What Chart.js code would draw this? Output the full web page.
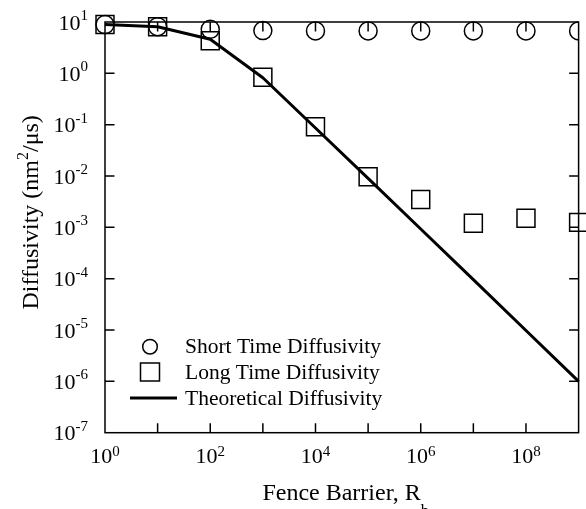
<!DOCTYPE html>
<html><head><meta charset="utf-8">
<script src="https://cdn.jsdelivr.net/npm/chart.js@4.4.1/dist/chart.umd.min.js"></script>
<style>html,body{margin:0;padding:0;background:#fff;}canvas{display:block;}</style>
</head><body>
<div style="width:586px;height:509px;"><canvas id="c" width="586" height="509"></canvas></div>
<script>
// ---- data ----
const barrier      = [1, 10, 100, 1e3, 1e4, 1e5, 1e6, 1e7, 1e8, 1e9];
const shortTime    = [8.9, 8.1, 7.2, 6.8, 6.7, 6.7, 6.7, 6.7, 6.7, 6.7];
const longTime     = [8.9, 8.1, 4.3, 0.84, 0.091, 0.0097, 0.0035, 0.0012, 0.0015, 0.00125];
const theoretical  = [8.9, 8.1, 4.6, 0.82, 0.086, 0.009, 9.3e-4, 9.6e-5, 9.8e-6, 1.0e-6];
const seriesLabels = ['Short Time Diffusivity', 'Long Time Diffusivity', 'Theoretical Diffusivity'];
const xLabelExps   = [0, 2, 4, 6, 8];
const yLabelExps   = [1, 0, -1, -2, -3, -4, -5, -6, -7];
const xTitleText   = 'Fence Barrier, R';
const xTitleSub    = 'b';
const yTitleParts  = ['Diffusivity (nm', '2', '/\u03bcs)'];

const FONT = "'Liberation Serif','Times New Roman',serif";
const pts = (ys) => barrier.map((x, i) => ({x: x, y: ys[i]}));

function drawPow(ctx, exp, x, y, align, mainSize, expSize, expRise) {
  ctx.font = mainSize + 'px ' + FONT;
  const w1 = ctx.measureText('10').width;
  ctx.font = expSize + 'px ' + FONT;
  const es = String(exp);
  const w2 = ctx.measureText(es).width;
  const total = w1 + w2;
  let sx = align === 'center' ? x - total / 2 : x - total;
  ctx.textAlign = 'left';
  ctx.textBaseline = 'alphabetic';
  ctx.font = mainSize + 'px ' + FONT;
  ctx.fillText('10', sx, y);
  ctx.font = expSize + 'px ' + FONT;
  ctx.fillText(es, sx + w1, y - expRise);
}

const framePlugin = {
  id: 'frame',
  afterDraw(chart) {
    const ctx = chart.ctx, a = chart.chartArea;
    const xs = chart.scales.x, ys = chart.scales.y;
    ctx.save();
    ctx.strokeStyle = '#000';
    ctx.fillStyle = '#000';
    ctx.lineWidth = 1.5;
    ctx.strokeRect(a.left, a.top, a.right - a.left, a.bottom - a.top);
    const TL = 9.5;
    ctx.beginPath();
    const xe0 = Math.round(Math.log10(xs.min)), xe1 = Math.round(Math.log10(xs.max));
    for (let e = xe0 + 1; e < xe1; e++) {
      const px = xs.getPixelForValue(Math.pow(10, e));
      ctx.moveTo(px, a.bottom); ctx.lineTo(px, a.bottom - TL);
      ctx.moveTo(px, a.top); ctx.lineTo(px, a.top + TL);
    }
    const ye0 = Math.round(Math.log10(ys.min)), ye1 = Math.round(Math.log10(ys.max));
    for (let e = ye0 + 1; e < ye1; e++) {
      const py = ys.getPixelForValue(Math.pow(10, e));
      ctx.moveTo(a.left, py); ctx.lineTo(a.left + TL, py);
      ctx.moveTo(a.right, py); ctx.lineTo(a.right - TL, py);
    }
    ctx.stroke();

    // tick labels
    xLabelExps.forEach(e => {
      const px = xs.getPixelForValue(Math.pow(10, e));
      drawPow(ctx, e, px, a.bottom + 30, 'center', 22, 15, 7);
    });
    yLabelExps.forEach(e => {
      const py = ys.getPixelForValue(Math.pow(10, e));
      drawPow(ctx, e, a.left - 17, py + 7.5, 'right', 22, 15, 9.5);
    });

    // x title
    ctx.font = '24px ' + FONT;
    const wt = ctx.measureText(xTitleText).width;
    ctx.font = '17px ' + FONT;
    const ws = ctx.measureText(xTitleSub).width;
    const cx = (a.left + a.right) / 2 + 4;
    let sx = cx - (wt + ws) / 2;
    ctx.textAlign = 'left'; ctx.textBaseline = 'alphabetic';
    ctx.font = '24px ' + FONT;
    ctx.fillText(xTitleText, sx, a.bottom + 67);
    ctx.font = '17px ' + FONT;
    ctx.fillText(xTitleSub, sx + wt, a.bottom + 67 + 16);

    // y title (rotated)
    ctx.save();
    ctx.translate(38, (a.top + a.bottom) / 2 - 15);
    ctx.rotate(-Math.PI / 2);
    ctx.font = '24px ' + FONT;
    const w0 = ctx.measureText(yTitleParts[0]).width;
    const w2 = ctx.measureText(yTitleParts[2]).width;
    ctx.font = '16px ' + FONT;
    const w1 = ctx.measureText(yTitleParts[1]).width;
    let tx = -(w0 + w1 + w2) / 2;
    ctx.font = '24px ' + FONT;
    ctx.fillText(yTitleParts[0], tx, 0);
    ctx.font = '16px ' + FONT;
    ctx.fillText(yTitleParts[1], tx + w0, -10);
    ctx.font = '24px ' + FONT;
    ctx.fillText(yTitleParts[2], tx + w0 + w1, 0);
    ctx.restore();

    // legend
    const lx = 150, textX = 185;
    const rows = [346.7, 372, 398];
    ctx.lineWidth = 1.5;
    ctx.beginPath(); ctx.arc(lx, rows[0], 7.3, 0, Math.PI * 2); ctx.stroke();
    ctx.strokeRect(lx - 9.5, rows[1] - 9, 19, 18);
    ctx.lineWidth = 3;
    ctx.beginPath(); ctx.moveTo(130, rows[2]); ctx.lineTo(177, rows[2]); ctx.stroke();
    ctx.font = '21.5px ' + FONT;
    ctx.textBaseline = 'middle';
    chart.data.datasets.forEach((ds, i) => {
      ctx.fillText(ds.label, textX, rows[i] + 1);
    });
    ctx.restore();
  }
};

new Chart(document.getElementById('c'), {
  type: 'scatter',
  data: {
    datasets: [
      {
        label: seriesLabels[0], data: pts(shortTime), order: 2,
        pointStyle: 'circle', pointRadius: 9, pointBorderWidth: 1.5,
        borderColor: '#000', backgroundColor: 'rgba(0,0,0,0)', showLine: false,
        clip: {left: 30, top: 30, right: 0, bottom: 30}
      },
      {
        label: seriesLabels[1], data: pts(longTime), order: 1,
        pointStyle: 'rect', pointRadius: 12.7, pointBorderWidth: 1.5,
        borderColor: '#000', backgroundColor: 'rgba(0,0,0,0)', showLine: false,
        clip: false
      },
      {
        label: seriesLabels[2], data: pts(theoretical), order: 0,
        showLine: true, pointRadius: 0, borderWidth: 3, borderColor: '#000',
        backgroundColor: '#000', tension: 0, fill: false,
        borderJoinStyle: 'round', clip: false
      }
    ]
  },
  options: {
    responsive: false,
    animation: false,
    devicePixelRatio: 1,
    layout: { autoPadding: false, padding: { top: 22, right: 7.4, left: 0, bottom: 0 } },
    plugins: { legend: { display: false }, tooltip: { enabled: false } },
    scales: {
      x: {
        type: 'logarithmic', position: 'bottom', min: 1, max: 1e9,
        grid: { display: false, drawTicks: false }, border: { display: false },
        ticks: { display: false },
        afterFit(s) { s.height = 76.3; }
      },
      y: {
        type: 'logarithmic', position: 'left', min: 1e-7, max: 10,
        grid: { display: false, drawTicks: false }, border: { display: false },
        ticks: { display: false },
        afterFit(s) { s.width = 105; }
      }
    }
  },
  plugins: [framePlugin]
});
</script>
</body></html>
